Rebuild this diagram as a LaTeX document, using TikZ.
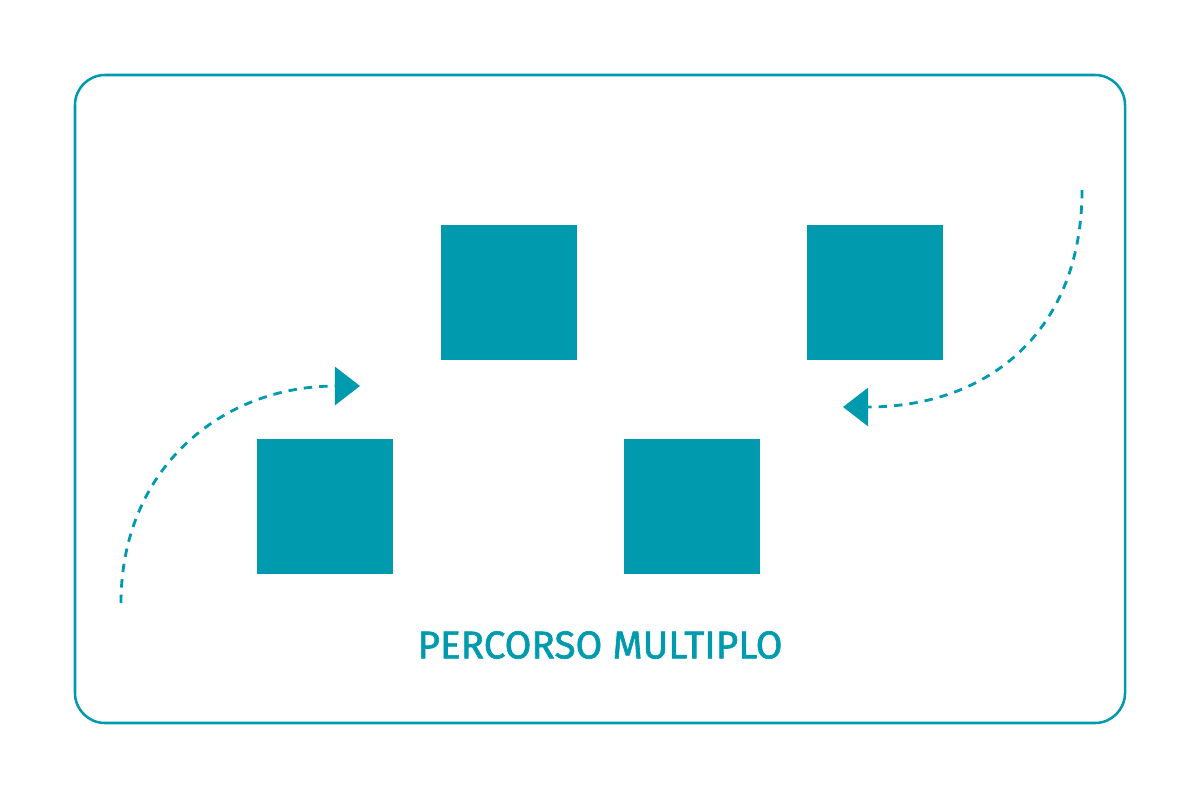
\documentclass[tikz,border=0pt]{standalone}
\usepackage{fontspec}
\setmainfont{Fira Sans}
\newfontfamily\medfont[FakeBold=1.6]{Fira Sans}
\usetikzlibrary{arrows.meta}
\definecolor{teal1}{HTML}{009AAF}
\begin{document}
\begin{tikzpicture}[x=0.025cm,y=-0.025cm,
  sq/.style={fill=teal1,draw=none,minimum width=3.4cm,minimum height=3.375cm,inner sep=0,anchor=north west},
  flow/.style={draw=teal1,line width=2pt,dash pattern=on 6pt off 5pt,-{Triangle[length=0.625cm,width=0.95cm,fill=teal1]}}]
\useasboundingbox (0,0) rectangle (1200,800);
\draw[teal1,line width=1.8pt,rounded corners=0.75cm] (75,75) rectangle (1125,723);
\node[sq] (a) at (441,225) {};
\node[sq] (b) at (807,225) {};
\node[sq] (c) at (257,439) {};
\node[sq] (d) at (624,439) {};
\coordinate (s1) at (121,603);
\coordinate (e1) at (360,386);
\coordinate (s2) at (1082,190);
\coordinate (e2) at (843,407);
\draw[flow] (s1) .. controls (121,470) and (220,386) .. (e1);
\draw[flow] (s2) .. controls (1082,330) and (990,407) .. (e2);
\node[text=teal1,font=\medfont\fontsize{27.5}{30}\selectfont] (t) at (600,645) {PERCORSO MULTIPLO};
\end{tikzpicture}
\end{document}
